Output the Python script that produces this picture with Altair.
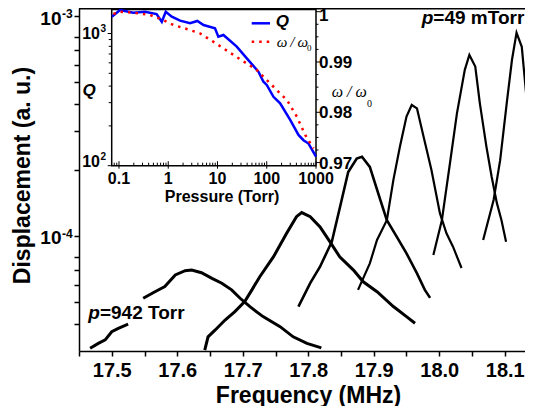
import altair as alt
import pandas as pd

FONT = "Liberation Sans"
SERIF = "Liberation Serif"

# ---------------- main panel: resonance curves (MHz, a.u.) ----------------
c1a_f = [17.467, 17.4795, 17.490, 17.500, 17.510, 17.525]
c1a_d = [3.09e-5, 3.25e-5, 3.37e-5, 3.67e-5, 3.80e-5, 3.97e-5]
c1b_f = [17.548, 17.566, 17.581, 17.597, 17.612, 17.622, 17.637, 17.653, 17.668,
         17.683, 17.696, 17.711, 17.731, 17.757, 17.777, 17.798, 17.820]
c1b_d = [5.21e-5, 5.58e-5, 5.89e-5, 6.65e-5, 6.95e-5, 7.0e-5, 6.81e-5, 6.42e-5, 6.10e-5,
         5.69e-5, 5.21e-5, 4.77e-5, 4.30e-5, 3.87e-5, 3.48e-5, 3.25e-5, 3.10e-5]
c2_f = [17.642, 17.647, 17.658, 17.673, 17.688, 17.703, 17.714, 17.726, 17.747, 17.767,
        17.782, 17.790, 17.803, 17.818, 17.833, 17.848, 17.869, 17.884, 17.905, 17.930,
        17.950, 17.963]
c2_d = [3.03e-5, 3.48e-5, 3.74e-5, 4.15e-5, 4.53e-5, 5.03e-5, 5.69e-5, 6.53e-5, 8.05e-5,
        1.028e-4, 1.224e-4, 1.277e-4, 1.224e-4, 1.10e-4, 9.42e-5, 8.05e-5, 7.0e-5, 6.19e-5,
        5.58e-5, 4.78e-5, 4.30e-5, 4.01e-5]
c3_f = [17.785, 17.803, 17.818, 17.836, 17.851, 17.861, 17.874, 17.882, 17.894, 17.910,
        17.920, 17.935, 17.950, 17.966, 17.978, 17.986]
c3_d = [4.77e-5, 6.10e-5, 7.25e-5, 9.42e-5, 1.458e-4, 1.955e-4, 2.25e-4, 2.29e-4, 2.06e-4,
        1.458e-4, 1.18e-4, 9.93e-5, 8.34e-5, 6.76e-5, 5.69e-5, 5.23e-5]
c4_f = [17.876, 17.894, 17.905, 17.920, 17.930, 17.940, 17.950, 17.958, 17.966, 17.976,
        17.988, 18.001, 18.011, 18.021, 18.034]
c4_d = [5.69e-5, 7.51e-5, 9.59e-5, 1.18e-4, 1.80e-4, 2.55e-4, 3.49e-4, 3.94e-4, 3.80e-4,
        2.83e-4, 2.0e-4, 1.27e-4, 1.028e-4, 8.94e-5, 7.15e-5]
c5_f = [17.991, 18.004, 18.017, 18.027, 18.039, 18.046, 18.055, 18.062, 18.072, 18.080,
        18.088, 18.095, 18.102]
c5_d = [8.20e-5, 1.18e-4, 2.21e-4, 3.61e-4, 5.69e-4, 6.65e-4, 5.89e-4, 4.01e-4, 2.55e-4,
        1.86e-4, 1.41e-4, 1.18e-4, 9.42e-5]
c6_f = [18.067, 18.083, 18.093, 18.103, 18.111, 18.118, 18.126, 18.134, 18.141]
c6_d = [9.59e-5, 1.458e-4, 2.21e-4, 4.01e-4, 6.31e-4, 8.39e-4, 7.24e-4, 4.01e-4, 2.21e-4]

segments = [("c1a", c1a_f, c1a_d, 3.0), ("c1b", c1b_f, c1b_d, 3.0), ("c2", c2_f, c2_d, 3.0),
            ("c3", c3_f, c3_d, 2.6), ("c4", c4_f, c4_d, 2.2), ("c5", c5_f, c5_d, 2.2),
            ("c6", c6_f, c6_d, 2.2)]

x_ticks = [17.45, 17.5, 17.55, 17.6, 17.65, 17.7, 17.75, 17.8, 17.85, 17.9, 17.95,
           18.0, 18.05, 18.1]
y_ticks = [4e-5, 5e-5, 6e-5, 7e-5, 8e-5, 1e-4, 2e-4, 3e-4, 4e-4, 5e-4, 6e-4, 7e-4,
           8e-4, 1e-3]
y_lab_vals = [1e-3, 1e-4]
y_lab_base = ["10", "10"]
y_lab_exp = ["-3", "-4"]

# annotations (positions in data units)
ann_f = [17.991, 17.482]
ann_d = [9.19e-4, 4.19e-5]
ann_rest = ["=49 mTorr", "=942 Torr"]

# ---------------- inset: Q and omega/omega0 vs pressure ----------------
q_p = [0.0715, 0.105, 0.195, 0.337, 0.58, 0.74, 0.89, 1.18, 1.74, 2.77, 3.9, 5.2, 8.9,
       10.4, 13.2, 24.6, 39.4, 67.8, 85.7, 100, 137, 187, 299, 441, 557, 705, 1000]
q_v = [1341, 1506, 1436, 1462, 1404, 1227, 1462, 1341, 1250, 1195, 1244, 1159, 1094,
       946, 975, 795, 649, 514, 432, 408, 332, 296, 222, 171, 156, 147, 117]
w_p = [0.077, 0.105, 0.195, 0.427, 0.79, 1.27, 2.38, 4.4, 8.3, 13.2, 21, 39.4, 63, 100,
       161, 259, 410, 604, 890]
w_v = [0.99954, 1.0, 0.9998, 0.99934, 0.99835, 0.99735, 0.99656, 0.9957, 0.9940, 0.9927,
       0.9914, 0.9897, 0.9884, 0.9864, 0.9844, 0.9824, 0.9791, 0.9755, 0.9728]

ix_major = [0.1, 1, 10, 100, 1000]
ix_labels = ["0.1", "1", "10", "100", "1000"]
ix_minor = [0.08, 0.09] + [m * d for d in (0.1, 1, 10, 100) for m in range(2, 10)]
iq_major = [100, 1000]
iq_minor = [200, 300, 400, 500, 600, 700, 800, 900]
iq_lab_pos = [1000, 106]
iq_lab_exp = ["3", "2"]
iw_major = [0.97, 0.98, 0.99]
iw_labels = ["0.97", "0.98", "0.99"]
iw_top = [1.0]
iw_top_label = ["1"]
iw_minor = [0.9725, 0.975, 0.9775, 0.9825, 0.985, 0.9875, 0.9925, 0.995, 0.9975]

# ---------------- geometry ----------------
W, H = 458, 343
F0 = 17.45
F1 = F0 + W / 655.0
XS = alt.Scale(domain=[F0, F1], nice=False, zero=False)
YS = alt.Scale(type="log", domain=[3e-5, 1.0874e-3], nice=False)
IX = alt.Scale(type="log", domain=[0.0711, 1000], range=[32.7, 237], nice=False)
IQ = alt.Scale(type="log", domain=[100, 1595], range=[157.7, -1.3], nice=False)
IW = alt.Scale(domain=[0.96938, 1.000994], range=[157.7, -1.3], nice=False, zero=False)
IB = 157.7  # inset bottom (px in plot coords)

rows = []
for sid, fs, ds, sw in segments:
    for i, (f, d) in enumerate(zip(fs, ds)):
        rows.append({"seg": sid, "f": f, "d": d, "i": i, "sw": sw})
curves_df = pd.DataFrame(rows)

x_axis = alt.Axis(values=x_ticks, title="Frequency (MHz)",
                  labelExpr="abs(datum.value*10 - round(datum.value*10)) < 0.01 ? format(datum.value, '.1f') : ''",
                  labelFont=FONT, labelFontSize=20, labelFontWeight="bold", labelColor="black",
                  titleFont=FONT, titleFontSize=23, titleFontWeight="bold", titleColor="black",
                  tickSize=5, tickWidth=1.5, tickColor="black", domainColor="black",
                  domainWidth=1.5, labelPadding=4, titlePadding=4, grid=False,
                  labelOverlap=False, labelFlush=False)
y_axis = alt.Axis(values=y_ticks, labels=False, title="Displacement (a. u.)",
                  titleFont=FONT, titleFontSize=23, titleFontWeight="bold", titleColor="black",
                  titleX=-57, titleY=167, titleBaseline="middle", titleAngle=-90,
                  tickSize=5, tickWidth=1.5, tickColor="black", domainColor="black",
                  domainWidth=1.5, grid=False)

curves = alt.Chart(curves_df).mark_line(color="black", clip=True).encode(
    x=alt.X("f:Q", scale=XS, axis=x_axis),
    y=alt.Y("d:Q", scale=YS, axis=y_axis),
    strokeWidth=alt.StrokeWidth("sw:Q", scale=None),
    detail="seg:N", order="i:Q")

top_border = alt.Chart(pd.DataFrame({"a": [0]})).mark_rule(color="black", strokeWidth=1.5).encode(
    x=alt.value(0), x2=alt.value(W), y=alt.value(0.75))

ylab_df = pd.DataFrame({"v": y_lab_vals, "b": y_lab_base, "e": y_lab_exp})
ylab_base = alt.Chart(ylab_df).mark_text(align="right", baseline="middle", dy=2.5, font=FONT,
                                         fontSize=19, fontWeight="bold", color="black").encode(
    x=alt.value(-17.5), y=alt.Y("v:Q", scale=YS, axis=None), text="b:N")
ylab_exp = alt.Chart(ylab_df).mark_text(align="left", baseline="middle", dy=-2, font=FONT,
                                        fontSize=12, fontWeight="bold", color="black").encode(
    x=alt.value(-17), y=alt.Y("v:Q", scale=YS, axis=None), text="e:N")

ann_df = pd.DataFrame({"f": ann_f, "d": ann_d, "t": ann_rest, "p": ["p", "p"]})
ann_p = alt.Chart(ann_df).mark_text(align="right", baseline="alphabetic", font=FONT,
                                    fontSize=19, fontWeight="bold", fontStyle="italic",
                                    color="black").encode(
    x=alt.X("f:Q", scale=XS, axis=None), y=alt.Y("d:Q", scale=YS, axis=None), text="p:N")
ann_t = alt.Chart(ann_df).mark_text(align="left", baseline="alphabetic", font=FONT,
                                    fontSize=19, fontWeight="bold", color="black").encode(
    x=alt.X("f:Q", scale=XS, axis=None), y=alt.Y("d:Q", scale=YS, axis=None), text="t:N")

# ---------------- inset ----------------
frame_df = pd.DataFrame({"x1": [0.0711], "x2": [1000], "y1": [100]})
frame = alt.Chart(frame_df).mark_rect(fill="white", stroke="black", strokeWidth=1.5).encode(
    x=alt.X("x1:Q", scale=IX, axis=None), x2="x2:Q",
    y=alt.Y("y1:Q", scale=IQ, axis=None), y2=alt.value(1.5))

def vrules(vals, y1, y2):
    return alt.Chart(pd.DataFrame({"p": vals})).mark_rule(color="black", strokeWidth=1).encode(
        x=alt.X("p:Q", scale=IX, axis=None), y=alt.value(y1), y2=alt.value(y2))

def hrules(vals, scale, x1, x2):
    return alt.Chart(pd.DataFrame({"v": vals})).mark_rule(color="black", strokeWidth=1).encode(
        y=alt.Y("v:Q", scale=scale, axis=None), x=alt.value(x1), x2=alt.value(x2))

ticks = [
    vrules(ix_minor, IB, IB - 3),
    vrules(ix_major, IB + 3, IB - 4.5),
    hrules(iq_minor, IQ, 32.7, 29.7),
    hrules(iq_major, IQ, 32.7, 28.7),
    hrules(iw_minor, IW, 237, 239.5),
    hrules(iw_major + iw_top, IW, 237, 241),
]

q_df = pd.DataFrame({"p": q_p, "q": q_v, "i": range(len(q_p))})
w_df = pd.DataFrame({"p": w_p, "w": w_v, "i": range(len(w_p))})
qline = alt.Chart(q_df).mark_line(color="#0000ff", strokeWidth=2.5).encode(
    x=alt.X("p:Q", scale=IX, axis=None), y=alt.Y("q:Q", scale=IQ, axis=None), order="i:Q")
wline = alt.Chart(w_df).mark_line(color="#ff0000", strokeWidth=2.5, strokeDash=[2.5, 5]).encode(
    x=alt.X("p:Q", scale=IX, axis=None), y=alt.Y("w:Q", scale=IW, axis=None), order="i:Q")

ixlab = alt.Chart(pd.DataFrame({"p": ix_major, "t": ix_labels})).mark_text(
    baseline="middle", font=FONT, fontSize=16, fontWeight="bold", color="black").encode(
    x=alt.X("p:Q", scale=IX, axis=None), y=alt.value(IB + 13.5), text="t:N")
ixtitle = alt.Chart(pd.DataFrame({"t": ["Pressure (Torr)"]})).mark_text(
    baseline="middle", font=FONT, fontSize=16, fontWeight="bold", color="black").encode(
    x=alt.value(143), y=alt.value(IB + 31.5), text="t:N")
iwlab = alt.Chart(pd.DataFrame({"w": iw_major, "t": iw_labels})).mark_text(
    align="left", baseline="middle", dy=1, font=FONT, fontSize=17, fontWeight="bold", color="black").encode(
    x=alt.value(240), y=alt.Y("w:Q", scale=IW, axis=None), text="t:N")
iwlab_top = alt.Chart(pd.DataFrame({"w": iw_top, "t": iw_top_label})).mark_text(
    align="left", baseline="middle", dy=4, font=FONT, fontSize=17, fontWeight="bold", color="black").encode(
    x=alt.value(240), y=alt.Y("w:Q", scale=IW, axis=None), text="t:N")
iqlab_df = pd.DataFrame({"q": iq_lab_pos, "b": ["10", "10"], "e": iq_lab_exp})
iqlab = alt.Chart(iqlab_df).mark_text(
    align="right", baseline="middle", font=FONT, fontSize=16, fontWeight="bold", color="black").encode(
    x=alt.value(21), y=alt.Y("q:Q", scale=IQ, axis=None), text="b:N")
iqexp = alt.Chart(iqlab_df).mark_text(
    align="left", baseline="middle", dy=-5, font=FONT, fontSize=10, fontWeight="bold", color="black").encode(
    x=alt.value(21.5), y=alt.Y("q:Q", scale=IQ, axis=None), text="e:N")

def label(text, x, y, **kw):
    return alt.Chart(pd.DataFrame({"t": [text]})).mark_text(color="black", **kw).encode(
        x=alt.value(x), y=alt.value(y), text="t:N")

texts = [
    label("Q", 10, 83, font=FONT, fontSize=17, fontWeight="bold", fontStyle="italic", baseline="middle"),
    label("\u03c9 / \u03c9", 252.7, 84, font=SERIF, fontSize=16, fontStyle="italic", align="left", baseline="middle"),
    label("0", 288, 96, font=SERIF, fontSize=10, align="left", baseline="middle"),
    label("Q", 196.7, 13.7, font=FONT, fontSize=17, fontWeight="bold", fontStyle="italic", align="left", baseline="middle"),
    label("\u03c9\u2009/\u2009\u03c9", 197.7, 34, font=SERIF, fontSize=15, fontStyle="italic", align="left", baseline="middle"),
    label("0", 228, 39.5, font=SERIF, fontSize=9, align="left", baseline="middle"),
]

leg_blue = alt.Chart(pd.DataFrame({"a": [0]})).mark_rule(color="#0000ff", strokeWidth=2.5).encode(
    x=alt.value(172.7), x2=alt.value(191), y=alt.value(15.3))
leg_red = alt.Chart(pd.DataFrame({"a": [0]})).mark_rule(color="#ff0000", strokeWidth=2.5, strokeDash=[2.5, 5]).encode(
    x=alt.value(172.7), x2=alt.value(193), y=alt.value(33.7))

layers = [curves, top_border, ylab_base, ylab_exp, ann_p, ann_t, frame] + ticks + [
    qline, wline, ixlab, ixtitle, iwlab, iwlab_top, iqlab, iqexp] + texts + [leg_blue, leg_red]

# total svg width kept at 517 px (page width minus body margins) to avoid rescaling
chart = alt.layer(*layers).resolve_scale(x="independent", y="independent").properties(
    width=W, height=H,
    padding={"left": 71, "top": 0, "right": -12, "bottom": 55},
    autosize=alt.AutoSizeParams(type="none"),
).configure_view(strokeWidth=0).configure(font=FONT)

chart.save("out.html", embed_options={"renderer": "svg", "actions": False})
